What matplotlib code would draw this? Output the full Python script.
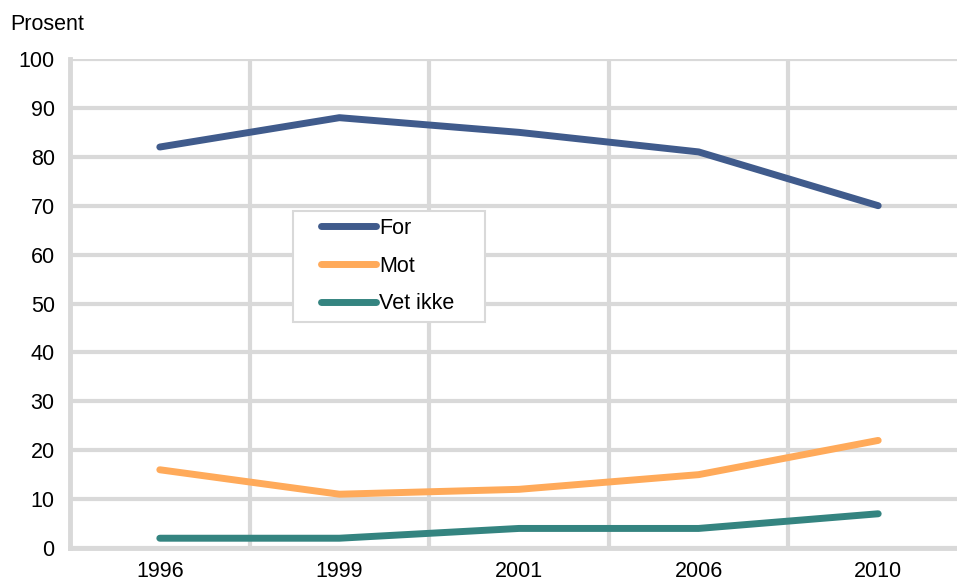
import matplotlib
matplotlib.use("Agg")
import matplotlib.pyplot as plt
from matplotlib.patches import Rectangle
import numpy as np

years = ["1996", "1999", "2001", "2006", "2010"]
series_for = [82, 88, 85, 81, 70]
series_mot = [16, 11, 12, 15, 22]
series_vet = [2, 2, 4, 4, 7]
labels = ["For", "Mot", "Vet ikke"]
colors = ["#405b8c", "#ffaa5a", "#348480"]
yticks = [0, 10, 20, 30, 40, 50, 60, 70, 80, 90, 100]

plt.rcParams['font.family'] = ['Liberation Sans', 'DejaVu Sans']

W, H = 957, 581
fig = plt.figure(figsize=(W/100, H/100), dpi=100)
left, right, top, bottom = 70, 968, 59, 548
ax = fig.add_axes([left/W, (H-bottom)/H, (right-left)/W, (bottom-top)/H])

x = np.arange(len(years))
grid_c = "#d9d9d9"
for vals, lab, c in zip([series_for, series_mot, series_vet], labels, colors):
    ax.plot(x, vals, color=c, lw=5, solid_capstyle='round', label=lab, zorder=3)

ax.set_xlim(-0.5, len(years) - 0.5)
ax.set_ylim(0, 100)
ax.set_yticks(yticks)
ax.set_xticks(x)
ax.set_xticklabels(years)
ax.set_xticks(np.arange(0.5, len(years) - 0.5, 1), minor=True)
ax.grid(axis='y', which='major', color=grid_c, lw=3)
ax.grid(axis='x', which='minor', color=grid_c, lw=3)
ax.set_axisbelow(True)
ax.tick_params(which='both', length=0)
ax.tick_params(axis='x', pad=9.5, labelsize=15.5)
ax.tick_params(axis='y', pad=11, labelsize=15.5)
for s in ['top', 'right']:
    ax.spines[s].set_visible(False)
for s in ['left', 'bottom']:
    ax.spines[s].set_color(grid_c)
    ax.spines[s].set_linewidth(3.5)

# legend frame box
ax.add_patch(Rectangle((293/W, 1 - 322/H), (485-293)/W, (322-211)/H,
                       transform=fig.transFigure, facecolor='white',
                       edgecolor=grid_c, lw=1.5, zorder=4, clip_on=False))
leg = ax.legend(loc='upper left', bbox_to_anchor=(321/W, 1 - 218/H),
                bbox_transform=fig.transFigure,
                fontsize=15.5, frameon=False,
                handlelength=2.55, handletextpad=0.15, labelspacing=0.77,
                borderpad=0, borderaxespad=0)
leg.set_zorder(5)

fig.text(10/W, 1 - 24/H, "Prosent", fontsize=15.5, va='center', ha='left')

fig.savefig("out.png", dpi=100)
